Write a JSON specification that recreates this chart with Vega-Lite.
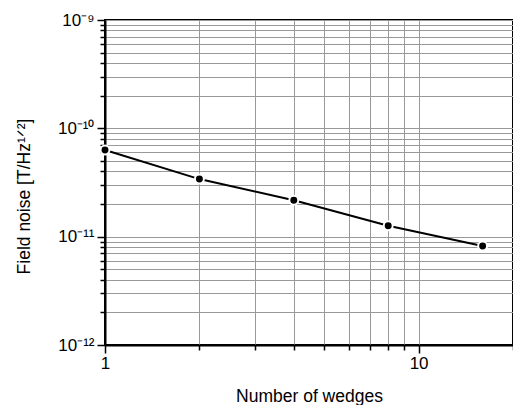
{
  "$schema": "https://vega.github.io/schema/vega-lite/v6.json",
  "autosize": {"type": "none"},
  "width": 408,
  "height": 325,
  "padding": {"left": 105, "top": 20, "right": 0, "bottom": 60},
  "background": "white",
  "config": {
    "font": "Liberation Sans",
    "view": {"stroke": "black", "strokeWidth": 2},
    "axis": {
      "domainColor": "black",
      "domainWidth": 2,
      "tickColor": "black",
      "tickWidth": 1.5,
      "gridColor": "#999999",
      "gridWidth": 1,
      "labelColor": "black",
      "titleColor": "black",
      "labelFont": "Liberation Sans",
      "titleFont": "Liberation Sans",
      "labelFontSize": 17,
      "titleFontSize": 17.5,
      "titleFontWeight": "normal"
    }
  },
  "data": {
    "values": [
      {"wedges": 1, "noise": 6.3e-11},
      {"wedges": 2, "noise": 3.4e-11},
      {"wedges": 4, "noise": 2.17e-11},
      {"wedges": 8, "noise": 1.26e-11},
      {"wedges": 16, "noise": 8.2e-12}
    ]
  },
  "encoding": {
    "x": {
      "field": "wedges",
      "type": "quantitative",
      "scale": {"type": "log", "domain": [1, 20], "nice": false},
      "axis": {
        "title": "Number of wedges",
        "titlePadding": 16,
        "values": [1, 2, 3, 4, 5, 6, 7, 8, 9, 10, 20],
        "labelExpr": "datum.value == 1 || datum.value == 10 ? datum.value + '' : ''",
        "tickSize": {"condition": {"test": "datum.value == 1 || datum.value == 10", "value": 8}, "value": 5},
        "labelPadding": 2,
        "labelFlush": false
      }
    },
    "y": {
      "field": "noise",
      "type": "quantitative",
      "scale": {"type": "log", "domain": [1e-12, 1e-9], "nice": false},
      "axis": {
        "title": "Field noise [T/Hz¹ᐟ²]",
        "titlePadding": 24,
        "titleY": 176,
        "values": [1e-12, 2e-12, 3e-12, 4e-12, 5e-12, 6e-12, 7e-12, 8e-12, 9e-12, 1e-11, 2e-11, 3e-11, 4e-11, 5e-11, 6e-11, 7e-11, 8e-11, 9e-11, 1e-10, 2e-10, 3e-10, 4e-10, 5e-10, 6e-10, 7e-10, 8e-10, 9e-10, 1e-9],
        "labelExpr": "datum.value == 1e-12 ? '10⁻¹²' : datum.value == 1e-11 ? '10⁻¹¹' : datum.value == 1e-10 ? '10⁻¹⁰' : datum.value == 1e-9 ? '10⁻⁹' : ''",
        "tickSize": {"condition": {"test": "datum.value == 1e-12 || datum.value == 1e-11 || datum.value == 1e-10 || datum.value == 1e-9", "value": 8}, "value": 5},
        "labelPadding": 3,
        "labelFlush": false
      }
    }
  },
  "layer": [
    {"mark": {"type": "line", "color": "black", "strokeWidth": 2}},
    {"mark": {"type": "point", "filled": true, "fill": "black", "stroke": "white", "strokeWidth": 2, "size": 80, "opacity": 1}}
  ]
}
